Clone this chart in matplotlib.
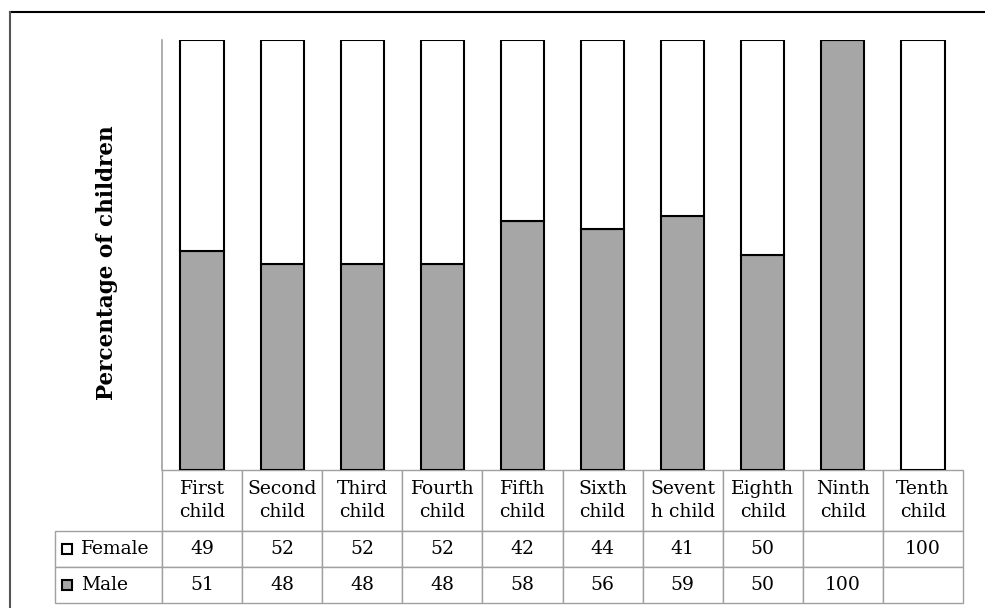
import matplotlib
matplotlib.use("Agg")
import matplotlib.pyplot as plt
from matplotlib.table import Table
from matplotlib.patches import Rectangle
from matplotlib.lines import Line2D

categories = ["First\nchild", "Second\nchild", "Third\nchild", "Fourth\nchild",
              "Fifth\nchild", "Sixth\nchild", "Sevent\nh child", "Eighth\nchild",
              "Ninth\nchild", "Tenth\nchild"]
female = [49, 52, 52, 52, 42, 44, 41, 50, None, 100]
male = [51, 48, 48, 48, 58, 56, 59, 50, 100, None]
series = [("Female", female, "white"), ("Male", male, "#a6a6a6")]

plt.rcParams["font.family"] = "DejaVu Serif"
GRID = "#a0a0a0"
FS = 13.5

fig = plt.figure(figsize=(9.85, 6.08), dpi=100)
W, H = 985, 608
AW, AH = 801, 430  # axes size in pixels
ax = fig.add_axes([162 / W, 1 - 470 / H, AW / W, AH / H])

x = range(len(categories))
m_vals = [v or 0 for v in male]
f_vals = [v or 0 for v in female]
ax.bar(x, m_vals, width=0.54, color="#a6a6a6", edgecolor="black", linewidth=1.5)
ax.bar(x, f_vals, width=0.54, bottom=m_vals, color="white", edgecolor="black", linewidth=1.5)

ax.set_xlim(-0.5, len(categories) - 0.5)
ax.set_ylim(0, 100)
ax.set_xticks([])
ax.set_yticks([])
for s in ["top", "right", "bottom"]:
    ax.spines[s].set_visible(False)
ax.spines["left"].set_color(GRID)
ax.spines["left"].set_linewidth(1.2)

# data table under the bars (sizes in axes fractions)
label_w, col_w = 107 / AW, 1 / len(categories)
row_h = [60.7 / AH, 36 / AH, 36 / AH]
tbl = Table(ax, bbox=[0, -sum(row_h), 1, sum(row_h)])
for j, cat in enumerate(categories):
    c = tbl.add_cell(0, j, width=col_w, height=row_h[0], text=cat, loc="center",
                     facecolor="white", edgecolor=GRID)
    c.get_text().set_linespacing(1.35)
for i, (name, vals, col) in enumerate(series, start=1):
    c = tbl.add_cell(i, -1, width=label_w, height=row_h[i], text=name, loc="left",
                     facecolor="white", edgecolor=GRID)
    c.PAD = 26 / 107
    for j, v in enumerate(vals):
        tbl.add_cell(i, j, width=col_w, height=row_h[i],
                     text="" if v is None else str(v), loc="center",
                     facecolor="white", edgecolor=GRID)
tbl.auto_set_font_size(False)
tbl.set_fontsize(FS)
for cell in tbl.get_celld().values():
    cell.set_linewidth(1.0)
ax.add_table(tbl)

# legend keys in the row label cells
for i, (name, vals, col) in enumerate(series):
    y0 = -(row_h[0] + row_h[1] * (i + 0.5)) - 5 / AH
    ax.add_patch(Rectangle((-100 / AW, y0), 10 / AW, 10 / AH,
                           transform=ax.transAxes, clip_on=False,
                           facecolor=col, edgecolor="black", linewidth=1.5))

fig.text(107 / W, 1 - 263 / H, "Percentage of children", rotation=90,
         ha="center", va="center", fontsize=15.5, fontweight="bold")

# outer frame
fig.add_artist(Line2D([10 / W, 1], [1 - 12 / H, 1 - 12 / H], color="black", linewidth=1.5))
fig.add_artist(Line2D([10 / W, 10 / W], [0, 1 - 12 / H], color="#555555", linewidth=1.5))

fig.savefig("out.png", dpi=100)
